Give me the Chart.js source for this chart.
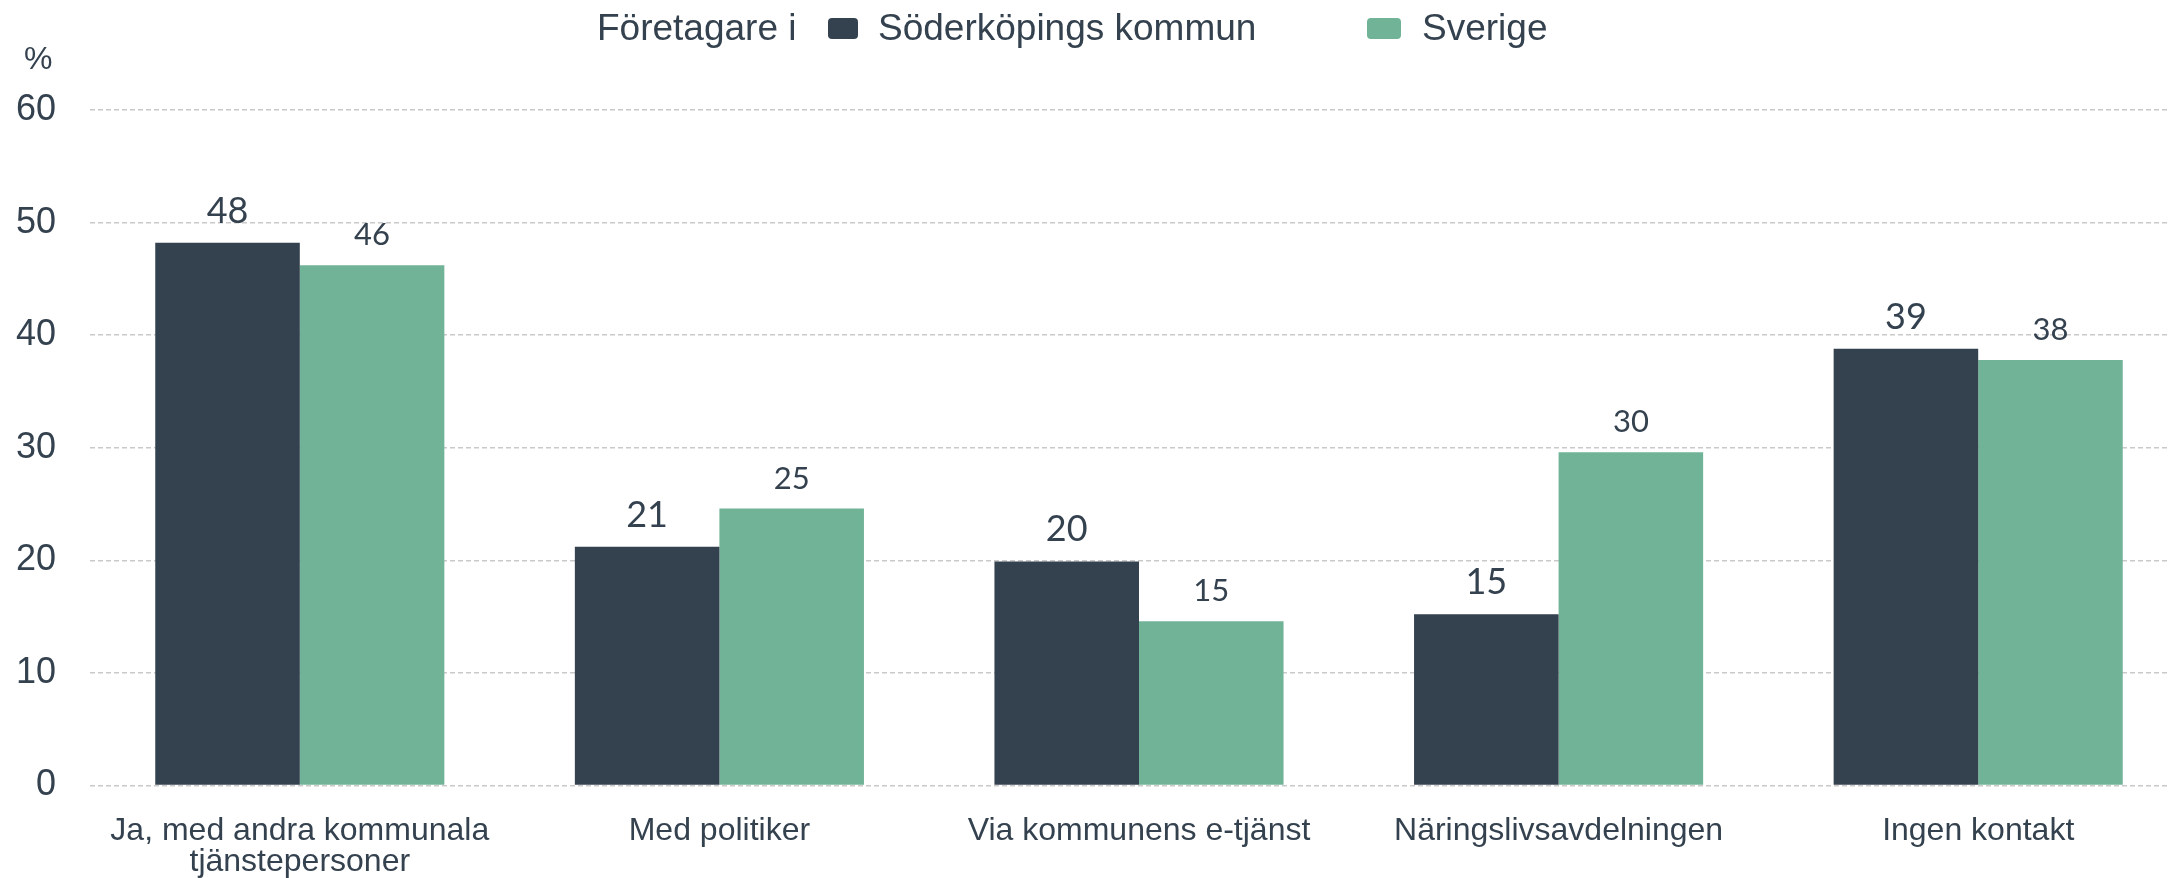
<!DOCTYPE html>
<html lang="sv">
<head>
<meta charset="utf-8">
<title>Kontakt med kommunen</title>
<script src="https://cdn.jsdelivr.net/npm/chart.js@4.4.1/dist/chart.umd.min.js"></script>
<style>
  html, body { margin: 0; padding: 0; background: #fff; overflow: hidden; }
  #wrap { position: relative; width: 2189px; height: 878px; }
  .txt { position: absolute; font-family: "Liberation Sans", Arial, sans-serif; color: #34414e; white-space: nowrap; line-height: 1; }
  .legend { font-size: 37px; top: 9px; }
  .box { position: absolute; top: 18px; height: 21px; border-radius: 4px; }
  #procent { font-size: 32px; left: 24px; top: 42px; }
</style>
</head>
<body>
<div id="wrap">
  <div class="txt legend" style="left:597px">Företagare i</div>
  <div class="box" style="left:828px;width:30px;background:#34414e"></div>
  <div class="txt legend" style="left:878px">Söderköpings kommun</div>
  <div class="box" style="left:1367px;width:34px;background:#71b397"></div>
  <div class="txt legend" style="left:1422px">Sverige</div>
  <div class="txt" id="procent">%</div>
  <canvas id="grafico" width="2189" height="878"></canvas>
</div>
<script>
// ------------------------------
// Datos
// ------------------------------
const categorias = [
  ["Ja, med andra kommunala", "tjänstepersoner"],
  "Med politiker",
  "Via kommunens e-tjänst",
  "Näringslivsavdelningen",
  "Ingen kontakt"
];
const soderkoping = [48.2, 21.2, 19.9, 15.2, 38.8];
const sverige = [46.2, 24.6, 14.6, 29.6, 37.8];
const ticksY = [0, 10, 20, 30, 40, 50, 60];

const colorOscuro = "#34414e";
const colorVerde = "#71b397";

Chart.defaults.font.family = "'Liberation Sans', Arial, sans-serif";
Chart.defaults.color = colorOscuro;

// etiquetas de valor encima de las barras
const etiquetasValor = {
  id: "etiquetasValor",
  afterDatasetsDraw(chart) {
    const ctx = chart.ctx;
    ctx.save();
    ctx.textAlign = "center";
    ctx.textBaseline = "alphabetic";
    ctx.fillStyle = colorOscuro;
    chart.data.datasets.forEach((ds, i) => {
      const meta = chart.getDatasetMeta(i);
      ctx.font = (i === 0 ? "36px" : "31px") + " Lato, sans-serif";
      meta.data.forEach((bar, j) => {
        ctx.fillText(Math.round(ds.data[j]), bar.x, bar.y - 20);
      });
    });
    ctx.restore();
  }
};

new Chart(document.getElementById("grafico"), {
  type: "bar",
  data: {
    labels: categorias,
    datasets: [
      { label: "Söderköpings kommun", data: soderkoping, backgroundColor: colorOscuro },
      { label: "Sverige", data: sverige, backgroundColor: colorVerde }
    ]
  },
  options: {
    responsive: false,
    animation: false,
    devicePixelRatio: 1,
    layout: { padding: { top: 110, left: 0, right: 1, bottom: 0 } },
    plugins: { legend: { display: false }, tooltip: { enabled: false } },
    datasets: { bar: { categoryPercentage: 0.689, barPercentage: 1.0 } },
    scales: {
      x: {
        grid: { display: false },
        border: { display: false },
        ticks: { font: { size: 32, lineHeight: 0.98 }, padding: 22, maxRotation: 0, autoSkip: false },
        afterFit: s => { s.height = 92.5; }
      },
      y: {
        min: ticksY[0],
        max: ticksY[ticksY.length - 1],
        afterBuildTicks: s => { s.ticks = ticksY.map(v => ({ value: v })); },
        grid: { color: "#c9c9c9", lineWidth: 1.5, drawTicks: false },
        border: { display: false, dash: [5, 3] },
        ticks: { font: { size: 36 }, padding: 34 },
        afterFit: s => { s.width = 90; }
      }
    }
  },
  plugins: [etiquetasValor]
});
</script>
</body>
</html>
